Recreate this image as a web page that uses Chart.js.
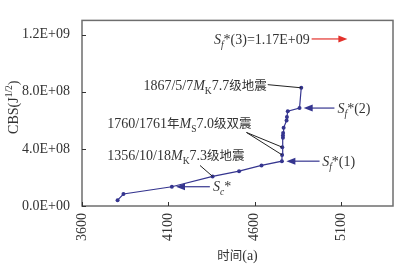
<!DOCTYPE html>
<html><head><meta charset="utf-8">
<script src="https://cdn.jsdelivr.net/npm/chart.js@4/dist/chart.umd.min.js"></script>
<style>html,body{margin:0;padding:0;background:#fff;}#wrap{width:402px;height:268px;position:relative;}</style>
</head><body><div id="wrap"><canvas id="c"></canvas></div>
<script>
// ---- data ----
const years = [3806, 3840, 4120, 4356, 4509, 4639, 4757, 4758, 4759, 4763, 4763, 4764, 4767, 4784, 4786, 4791, 4859, 4869];
const cbs = [4.1e7, 8.4e7, 1.35e8, 2.07e8, 2.44e8, 2.84e8, 3.14e8, 3.58e8, 4.12e8, 4.78e8, 4.94e8, 5.11e8, 5.48e8, 5.99e8, 6.24e8, 6.64e8, 6.86e8, 8.28e8];
const xTicks = [3600, 4100, 4600, 5100];
const yTicks = [0, 4e8, 8e8, 1.2e9];
const sf3Value = 1.17e9;

const FONT = '"Liberation Serif","Noto Sans CJK SC",serif';
const TXT = '#333333';
const BLUE = '#35358f';
const RED = '#e3312b';

function fmtE(v){
  if (v === 0) return '0.0E+00';
  const e = Math.floor(Math.log10(Math.abs(v)) + 1e-9);
  const m = v / Math.pow(10, e);
  return m.toFixed(1) + 'E' + (e < 0 ? '-' : '+') + String(Math.abs(e)).padStart(2, '0');
}

function drawRich(ctx, segs, x, y, align, size){
  let w = 0;
  const info = segs.map(s => {
    let sz = (s.sub || s.sup) ? size * 0.68 : size;
    if (s.cjk) sz = size - 1.5;
    const f = (s.it ? 'italic ' : '') + sz + 'px ' + FONT;
    ctx.font = f;
    const ww = ctx.measureText(s.t).width;
    w += ww;
    return {f, ww, dy: s.sub ? size * 0.28 : (s.sup ? -size * 0.38 : 0)};
  });
  let cx = align === 'right' ? x - w : (align === 'center' ? x - w / 2 : x);
  ctx.textAlign = 'left';
  ctx.textBaseline = 'alphabetic';
  const base = y + size * 0.34;
  segs.forEach((s, i) => {
    ctx.font = info[i].f;
    ctx.fillText(s.t, cx, base + info[i].dy);
    cx += info[i].ww;
  });
}

// annotations (anchored in data units)
const notes = [
  {segs:[{t:'S',it:1},{t:'f',it:1,sub:1},{t:'*(3)=1.17E+09'}], x:4918, y:sf3Value, align:'right'},
  {segs:[{t:'1867/5/7'},{t:'M',it:1},{t:'K',sub:1},{t:'7.7'},{t:'级地震',cjk:1}], x:4669, y:8.44e8, align:'right'},
  {segs:[{t:'S',it:1},{t:'f',it:1,sub:1},{t:'*(2)'}], x:5079, pi:16, align:'left'},
  {segs:[{t:'1760/1761'},{t:'年',cjk:1},{t:'M',it:1},{t:'S',sub:1},{t:'7.0'},{t:'级双震',cjk:1}], x:3746, y:5.81e8, align:'left'},
  {segs:[{t:'1356/10/18'},{t:'M',it:1},{t:'K',sub:1},{t:'7.3'},{t:'级地震',cjk:1}], x:3746, y:3.53e8, align:'left'},
  {segs:[{t:'S',it:1},{t:'f',it:1,sub:1},{t:'*(1)'}], x:4990, pi:6, align:'left'},
  {segs:[{t:'S',it:1},{t:'c',it:1,sub:1},{t:'*'}], x:4358, pi:2, align:'left'}
];
const arrows = [
  {from:4929, to:5136, y:sf3Value, color:RED},
  {from:5061, to:4883, pi:16, color:BLUE},
  {from:4975, to:4783, pi:6, color:BLUE},
  {from:4340, to:4144, pi:2, color:BLUE}
];
const leaders = [
  {x:4675, y:8.5e8, to:[17]},
  {x:4552, y:5.15e8, to:[7, 8]},
  {x:4283, y:2.84e8, to:[3]}
];

const deco = {
  id: 'deco',
  afterDatasetsDraw(chart){
    const {ctx, chartArea: a, scales: {x, y}} = chart;
    ctx.save();
    ctx.strokeStyle = '#6e6e6e';
    ctx.lineWidth = 1.5;
    ctx.strokeRect(a.left, a.top, a.right - a.left, a.bottom - a.top);
    ctx.lineWidth = 1;
    ctx.strokeStyle = '#333';
    ctx.beginPath();
    xTicks.forEach(v => { const p = Math.round(x.getPixelForValue(v)) + 0.5; ctx.moveTo(p, a.bottom); ctx.lineTo(p, a.bottom - 4); });
    yTicks.forEach(v => { const p = Math.round(y.getPixelForValue(v)) + 0.5; ctx.moveTo(a.left, p); ctx.lineTo(a.left + 4, p); });
    ctx.stroke();
    ctx.strokeStyle = '#222';
    ctx.lineWidth = 1;
    leaders.forEach(l => {
      l.to.forEach(i => {
        ctx.beginPath();
        ctx.moveTo(x.getPixelForValue(l.x), y.getPixelForValue(l.y));
        ctx.lineTo(x.getPixelForValue(years[i]), y.getPixelForValue(cbs[i]));
        ctx.stroke();
      });
    });
    arrows.forEach(ar => {
      const yy = y.getPixelForValue(ar.pi !== undefined ? cbs[ar.pi] : ar.y);
      const x0 = x.getPixelForValue(ar.from), x1 = x.getPixelForValue(ar.to);
      const dir = Math.sign(x1 - x0);
      ctx.strokeStyle = ar.color; ctx.fillStyle = ar.color; ctx.lineWidth = 1.2;
      ctx.beginPath(); ctx.moveTo(x0, yy); ctx.lineTo(x1 - dir * 6, yy); ctx.stroke();
      ctx.beginPath(); ctx.moveTo(x1, yy); ctx.lineTo(x1 - dir * 9, yy - 3.5); ctx.lineTo(x1 - dir * 9, yy + 3.5); ctx.closePath(); ctx.fill();
    });
    ctx.fillStyle = TXT;
    notes.forEach(n => {
      const yy = y.getPixelForValue(n.pi !== undefined ? cbs[n.pi] : n.y);
      drawRich(ctx, n.segs, x.getPixelForValue(n.x), yy, n.align, 14);
    });
    ctx.save();
    ctx.translate(13, (a.top + a.bottom) / 2 - 6);
    ctx.rotate(-Math.PI / 2);
    drawRich(ctx, [{t:'CBS(J'},{t:'1/2',sup:1},{t:')'}], 0, 0, 'center', 14);
    ctx.restore();
    drawRich(ctx, [{t:'时间',cjk:1},{t:'(a)'}], (a.left + a.right) / 2, 255, 'center', 14);
    ctx.restore();
  }
};

new Chart(document.getElementById('c'), {
  type: 'scatter',
  data: {
    datasets: [{
      data: years.map((v, i) => ({x: v, y: cbs[i]})),
      showLine: true,
      borderColor: BLUE,
      backgroundColor: BLUE,
      borderWidth: 1.2,
      pointRadius: 2,
      pointHoverRadius: 2,
      pointBorderWidth: 0
    }]
  },
  options: {
    responsive: true,
    maintainAspectRatio: false,
    animation: false,
    events: [],
    layout: {padding: {left: 0, right: 9, top: 7, bottom: 0}},
    plugins: {legend: {display: false}, tooltip: {enabled: false}},
    scales: {
      x: {
        type: 'linear', min: 3600, max: 5400,
        afterBuildTicks: s => { s.ticks = xTicks.map(v => ({value: v})); },
        afterFit: s => { s.height = 62; },
        grid: {display: false, drawTicks: false},
        border: {display: false},
        ticks: {minRotation: 90, maxRotation: 90, padding: 7, color: TXT, font: {family: 'Liberation Serif', size: 14}, callback: v => String(v)}
      },
      y: {
        type: 'linear', min: 0, max: 1.3e9,
        afterBuildTicks: s => { s.ticks = yTicks.map(v => ({value: v})); },
        afterFit: s => { s.width = 82; },
        grid: {display: false, drawTicks: false},
        border: {display: false},
        ticks: {padding: 12, color: TXT, font: {family: 'Liberation Serif', size: 14}, callback: v => fmtE(v)}
      }
    }
  },
  plugins: [deco]
});
</script></body></html>
